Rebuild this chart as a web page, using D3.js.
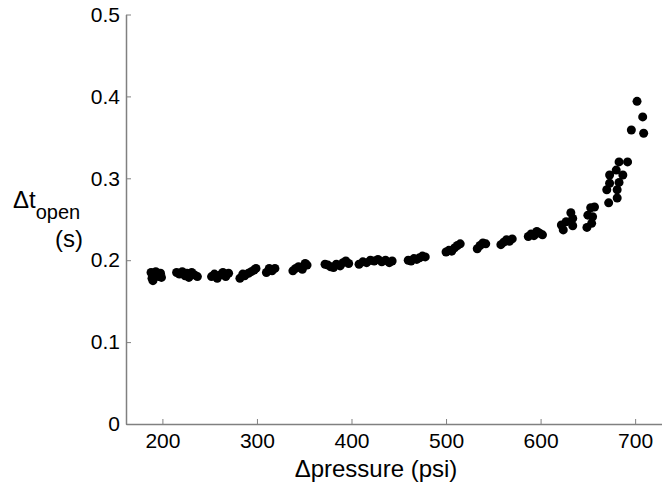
<!DOCTYPE html>
<html>
<head>
<meta charset="utf-8">
<script src="https://cdn.jsdelivr.net/npm/d3@7"></script>
<style>
  body { margin: 0; background: #fff; }
  text { font-family: "Liberation Sans", Arial, sans-serif; fill: #000; }
</style>
</head>
<body>
<div id="chart"></div>
<script>
// measured pressure drop (psi) vs valve opening time (s)
var pressure = [
  188, 189, 190, 191, 193, 196, 198, 199,
  215, 218, 221, 224, 226, 228, 231, 234, 237,
  252, 255, 258, 261, 264, 267, 270,
  282, 285, 287, 291, 294, 297, 299,
  310, 313, 316, 319,
  338, 341, 344, 348, 351, 353,
  372, 375, 378, 381, 384, 388, 391, 394, 397,
  408, 412, 416, 420, 424, 428, 432, 436, 440, 443,
  460, 463, 466, 469, 472, 475, 478,
  500, 503, 506, 509, 512, 515,
  533, 536, 539, 542,
  558, 561, 564, 567, 570,
  587, 590, 593, 596, 599, 602,
  622, 624, 627, 632, 634, 634,
  649, 650, 653, 654, 655, 657,
  670, 672, 673, 673, 680, 681, 681, 683, 683, 687, 692,
  696, 702, 708, 709
];
var dtOpen = [
  0.185, 0.178, 0.175, 0.182, 0.186, 0.180, 0.184, 0.179,
  0.185, 0.183, 0.186, 0.181, 0.184, 0.179, 0.185, 0.182, 0.180,
  0.180, 0.183, 0.178, 0.182, 0.185, 0.180, 0.184,
  0.178, 0.183, 0.181, 0.184, 0.186, 0.188, 0.190,
  0.185, 0.190, 0.187, 0.190,
  0.187, 0.190, 0.192, 0.189, 0.196, 0.194,
  0.195, 0.194, 0.192, 0.191, 0.195, 0.193, 0.197, 0.199, 0.196,
  0.195, 0.198, 0.197, 0.200, 0.199, 0.201, 0.198, 0.200, 0.197, 0.199,
  0.200, 0.199, 0.202, 0.201, 0.203, 0.205, 0.204,
  0.210, 0.212, 0.211, 0.215, 0.218, 0.220,
  0.214, 0.218, 0.221, 0.220,
  0.219, 0.222, 0.225, 0.223, 0.226,
  0.229, 0.232, 0.230, 0.235, 0.233, 0.231,
  0.243, 0.237, 0.247, 0.258, 0.251, 0.242,
  0.240, 0.255, 0.264, 0.245, 0.253, 0.265,
  0.286, 0.270, 0.304, 0.294, 0.310, 0.286, 0.276, 0.320, 0.295, 0.304, 0.320,
  0.359, 0.394, 0.375, 0.355
];
var xTicks = [200, 300, 400, 500, 600, 700];
var yTicks = [0, 0.1, 0.2, 0.3, 0.4, 0.5];

var width = 662, height = 486;

var svg = d3.select("#chart").append("svg")
    .attr("width", width)
    .attr("height", height);

var x = d3.scaleLinear().domain([161.5, 730]).range([126, 663.5]);
var y = d3.scaleLinear().domain([0, 0.5]).range([424, 14.5]);

var axisCol = "#808080";

// x axis, ticks pointing inward
var gx = svg.append("g").attr("transform", "translate(0,424)")
    .call(d3.axisBottom(x).tickValues(xTicks).tickSizeInner(-5).tickSizeOuter(0).tickPadding(9));
gx.select(".domain").attr("stroke", axisCol).attr("stroke-width", 1.5);
gx.selectAll(".tick line").attr("stroke", axisCol);
gx.selectAll(".tick text").style("font-size", "21px").attr("fill", "#000");

// y axis
var gy = svg.append("g").attr("transform", "translate(126,0)")
    .call(d3.axisLeft(y).tickValues(yTicks).tickSizeInner(-5).tickSizeOuter(0).tickPadding(6)
      .tickFormat(function(d) { return d === 0 ? "0" : d3.format(".1f")(d); }));
gy.select(".domain").attr("stroke", axisCol).attr("stroke-width", 1.5);
gy.selectAll(".tick line").attr("stroke", axisCol);
gy.selectAll(".tick text").style("font-size", "21px").attr("fill", "#000");

// points
svg.append("g").selectAll("circle")
    .data(pressure)
  .enter().append("circle")
    .attr("cx", function(d) { return x(d); })
    .attr("cy", function(d, i) { return y(dtOpen[i]); })
    .attr("r", 4.5)
    .attr("fill", "#000");

// axis titles
svg.append("text")
    .attr("x", 376).attr("y", 477)
    .attr("text-anchor", "middle")
    .style("font-size", "24px")
    .text("\u0394pressure (psi)");

var yl = svg.append("text")
    .attr("x", 13).attr("y", 208)
    .style("font-size", "24px");
yl.append("tspan").text("\u0394t");
yl.append("tspan").attr("dy", 11).style("font-size", "20px").text("open");

svg.append("text")
    .attr("x", 83).attr("y", 247)
    .attr("text-anchor", "end")
    .style("font-size", "24px")
    .text("(s)");
</script>
</body>
</html>
